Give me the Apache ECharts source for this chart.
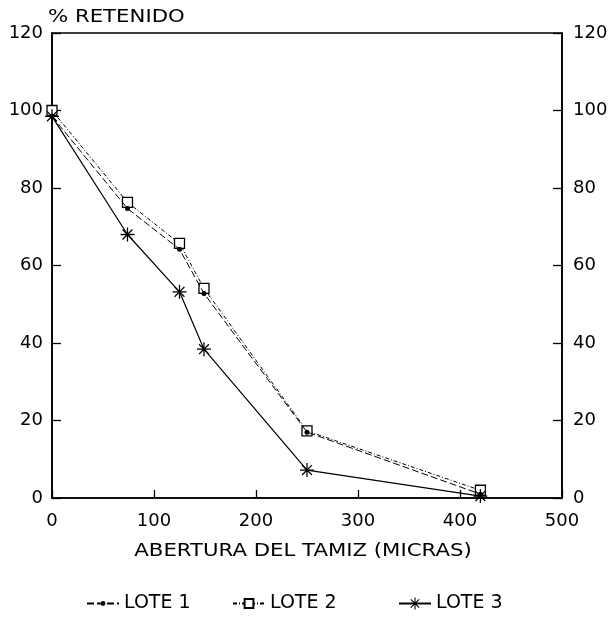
<!DOCTYPE html>
<html>
<head>
<meta charset="utf-8">
<script src="https://cdn.jsdelivr.net/npm/echarts@6/dist/echarts.min.js"></script>
<style>
  html, body { margin: 0; padding: 0; background: #fff; }
  #chart { width: 612px; height: 617px; }
</style>
</head>
<body>
<div id="chart"></div>
<script>
// abertura del tamiz (micras)
const abertura = [0, 74, 125, 149, 250, 420];
const lote1 = [98.5, 74.7, 64.2, 52.8, 17.0, 1.0];
const lote2 = [100, 76.3, 65.7, 54.1, 17.3, 2.0];
const lote3 = [98.5, 68.0, 53.2, 38.4, 7.2, 0.5];
const yTicks = [0, 20, 40, 60, 80, 100, 120];
const xTicks = [0, 100, 200, 300, 400, 500];

const font = 'DejaVu Sans, sans-serif';
const star = 'path://M-0.09,-1 L0.09,-1 L0.09,1 L-0.09,1 Z M-1,-0.09 L1,-0.09 L1,0.09 L-1,0.09 Z M-0.64,-0.77 L0.77,0.64 L0.64,0.77 L-0.77,-0.64 Z M-0.77,0.64 L0.64,-0.77 L0.77,-0.64 L-0.64,0.77 Z';

function pairs(ys) {
    return abertura.map((x, i) => [x, ys[i]]);
}

// one legend per entry so each can sit where the original has it
function legendAt(name, left, h) {
    return {
        data: [name],
        left: left,
        top: 594,
        itemWidth: 32,
        itemHeight: h,
        itemGap: 0,
        padding: 0,
        textStyle: { color: '#000', fontSize: 19, fontFamily: font }
    };
}

const chart = echarts.init(document.getElementById('chart'));
const yAxisBase = {
    type: 'value',
    min: yTicks[0],
    max: yTicks[yTicks.length - 1],
    interval: 20,
    axisLine: { show: true, lineStyle: { color: '#000', width: 1.6 } },
    axisTick: { show: true, inside: true, length: 9, lineStyle: { color: '#000', width: 1.3 } },
    splitLine: { show: false },
    axisLabel: { color: '#000', fontSize: 18, fontFamily: font, margin: 9 }
};

chart.setOption({
    animation: false,
    grid: {
        left: 52, right: 50, top: 33, bottom: 119,
        show: true, borderColor: '#000', borderWidth: 1.6, backgroundColor: 'transparent'
    },
    legend: [
        legendAt('LOTE 1', 86, 6),
        legendAt('LOTE 2', 232, 11),
        legendAt('LOTE 3', 398, 15)
    ],
    graphic: [
        {
            type: 'text', x: 48, y: 17, scaleX: 1.18,
            style: { text: '% RETENIDO', x: 0, y: 0, textAlign: 'left', textVerticalAlign: 'middle',
                     fill: '#000', font: '18px DejaVu Sans' }
        },
        {
            type: 'text', x: 303, y: 551, scaleX: 1.18,
            style: { text: 'ABERTURA DEL TAMIZ (MICRAS)', x: 0, y: 0, textAlign: 'center', textVerticalAlign: 'middle',
                     fill: '#000', font: '18px DejaVu Sans' }
        }
    ],
    xAxis: {
        type: 'value',
        min: xTicks[0],
        max: xTicks[xTicks.length - 1],
        interval: 100,
        axisLine: { show: true, lineStyle: { color: '#000', width: 1.6 } },
        axisTick: { show: true, inside: true, length: 8, lineStyle: { color: '#000', width: 1.3 } },
        splitLine: { show: false },
        axisLabel: { color: '#000', fontSize: 18, fontFamily: font, margin: 14 }
    },
    yAxis: [
        Object.assign({}, yAxisBase, { position: 'left' }),
        Object.assign({}, yAxisBase, { position: 'right', axisLabel: Object.assign({}, yAxisBase.axisLabel, { margin: 11 }) })
    ],
    series: [
        {
            name: 'LOTE 1',
            type: 'line',
            data: pairs(lote1),
            symbol: 'circle',
            symbolSize: 5,
            itemStyle: { color: '#000' },
            lineStyle: { color: '#000', width: 1, type: [7, 3] },
            z: 3
        },
        {
            name: 'LOTE 2',
            type: 'line',
            data: pairs(lote2),
            symbol: 'rect',
            symbolSize: 10,
            itemStyle: { color: '#fff', borderColor: '#000', borderWidth: 1.3 },
            lineStyle: { color: '#000', width: 1, type: [4, 2, 1, 2] },
            z: 2
        },
        {
            name: 'LOTE 3',
            type: 'line',
            data: pairs(lote3),
            symbol: star,
            symbolSize: 14,
            itemStyle: { color: '#000' },
            lineStyle: { color: '#000', width: 1.2 },
            z: 4
        }
    ]
});
</script>
</body>
</html>
